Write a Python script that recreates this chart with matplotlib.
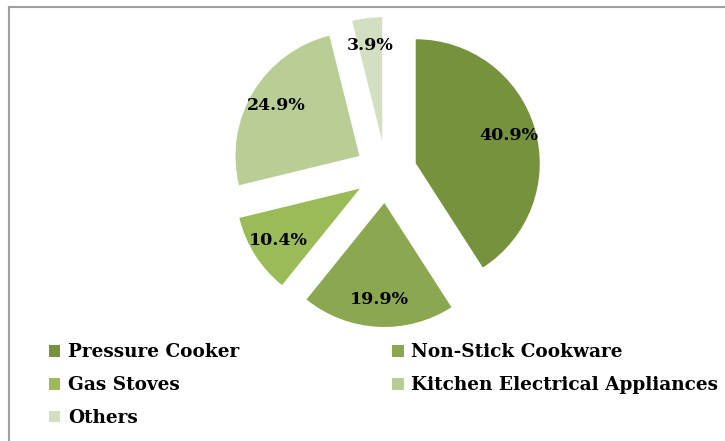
import matplotlib
matplotlib.use('Agg')
import matplotlib.pyplot as plt
from matplotlib.lines import Line2D

categories = ['Pressure Cooker', 'Non-Stick Cookware', 'Gas Stoves',
              'Kitchen Electrical Appliances', 'Others']
shares = [40.9, 19.9, 10.4, 24.9, 3.9]
colors = ['#76923C', '#8BA74F', '#9BBB59', '#B8CE95', '#D3DFC0']

W, H = 725, 441
fig = plt.figure(figsize=(W / 100, H / 100), dpi=100)
plt.rcParams['font.family'] = 'DejaVu Serif'

# pie centre (px) and radius (px)
cx, cy, r = 386, 172, 124
span = 1.5 * r
ax = fig.add_axes([(cx - span) / W, (H - cy - span) / H, 2 * span / W, 2 * span / H])

wedges, texts, autotexts = ax.pie(
    shares, colors=colors, startangle=90, counterclock=False,
    explode=[0.25] * len(shares), autopct='%.1f%%', pctdistance=0.78,
    textprops=dict(fontsize=12.5, fontweight='bold', color='black'))
ax.set_xlim(-1.5, 1.5)
ax.set_ylim(-1.5, 1.5)
ax.axis('off')

# legend laid out row by row like the original
order = [0, 2, 4, 1, 3]
fig.legend([wedges[i] for i in order], [categories[i] for i in order],
           ncol=2, loc='upper left', bbox_to_anchor=(42 / W, 1 - 336 / H),
           frameon=False, prop=dict(weight='bold', size=13.3),
           handlelength=0.6, handleheight=0.6, handletextpad=0.4,
           labelspacing=0.8, columnspacing=8.3, borderaxespad=0)

# partial chart border (top and left)
fig.add_artist(Line2D([8.5 / W, 8.5 / W], [0, 1 - 6.5 / H], color='#a0a0a0', lw=1.5))
fig.add_artist(Line2D([8.5 / W, 1], [1 - 6.5 / H, 1 - 6.5 / H], color='#a0a0a0', lw=1.5))

fig.savefig('out.png', dpi=100)
